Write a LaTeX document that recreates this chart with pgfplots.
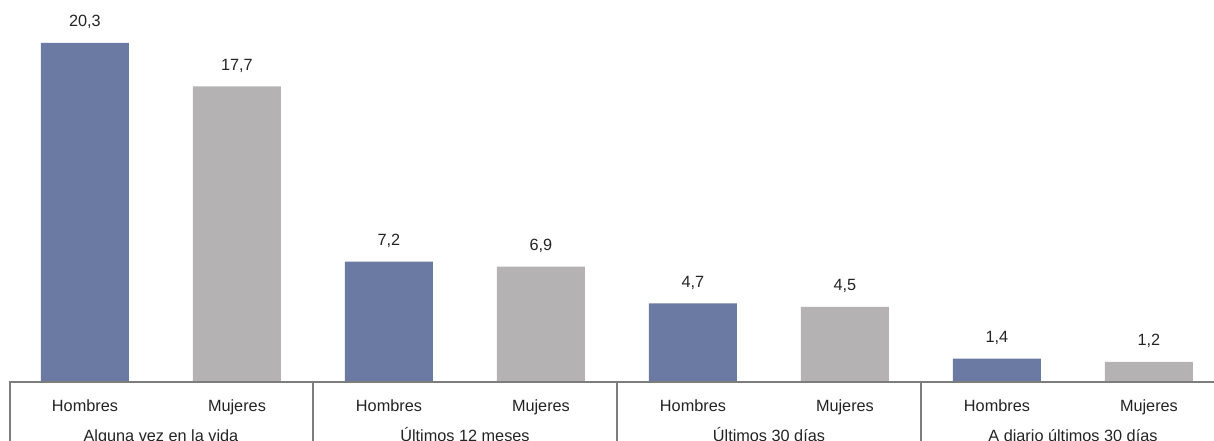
\documentclass[border=0pt]{standalone}
\usepackage{pgfplots}
\pgfplotsset{compat=1.18}
\usepackage{fontspec}
\setmainfont{Liberation Sans}
\definecolor{hblue}{RGB}{106,122,162}
\definecolor{mgray}{RGB}{181,178,179}
\definecolor{boxgray}{RGB}{125,125,125}
\definecolor{txt}{RGB}{35,35,35}
\begin{document}
\begin{tikzpicture}
\useasboundingbox (0,0) rectangle (910.5pt,330.75pt);
\clip (0,0) rectangle (910.5pt,330.75pt);
\begin{axis}[
  at={(0,0)}, anchor=south west,
  scale only axis, width=910.5pt, height=330.75pt,
  xmin=-0.559, xmax=7.428, ymin=-3.533, ymax=22.87,
  axis lines=none, clip=false,
  ybar, bar width=66pt, bar shift=0pt,
  nodes near coords,
  every node near coord/.append style={anchor=base, yshift=12pt, text=txt, font=\fontsize{12.2}{14}\selectfont},
  /pgf/number format/.cd, use comma, fixed, fixed zerofill, precision=1, assume math mode=true,
]
\addplot[fill=hblue, draw=none] coordinates {(0,20.3) (2,7.2) (4,4.7) (6,1.4)};
\addplot[fill=mgray, draw=none] coordinates {(1,17.7) (3,6.9) (5,4.5) (7,1.2)};

\draw[boxgray, line width=1.1pt] (axis cs:-0.493,-5) -- (axis cs:-0.493,0) -- (axis cs:7.6,0);
\draw[boxgray, line width=1.1pt] (axis cs:1.5,0) -- (axis cs:1.5,-5);
\draw[boxgray, line width=1.1pt] (axis cs:3.5,0) -- (axis cs:3.5,-5);
\draw[boxgray, line width=1.1pt] (axis cs:5.5,0) -- (axis cs:5.5,-5);

\begin{scope}[every node/.style={anchor=base, text=txt, font=\fontsize{12.2}{14}\selectfont}]
\node at (axis cs:0,-1.74) {Hombres};
\node at (axis cs:1,-1.74) {Mujeres};
\node at (axis cs:2,-1.74) {Hombres};
\node at (axis cs:3,-1.74) {Mujeres};
\node at (axis cs:4,-1.74) {Hombres};
\node at (axis cs:5,-1.74) {Mujeres};
\node at (axis cs:6,-1.74) {Hombres};
\node at (axis cs:7,-1.74) {Mujeres};
\node at (axis cs:0.5,-3.58) {Alguna vez en la vida};
\node at (axis cs:2.5,-3.58) {Últimos 12 meses};
\node at (axis cs:4.5,-3.58) {Últimos 30 días};
\node at (axis cs:6.5,-3.58) {A diario últimos 30 días};
\end{scope}
\end{axis}
\end{tikzpicture}
\end{document}
